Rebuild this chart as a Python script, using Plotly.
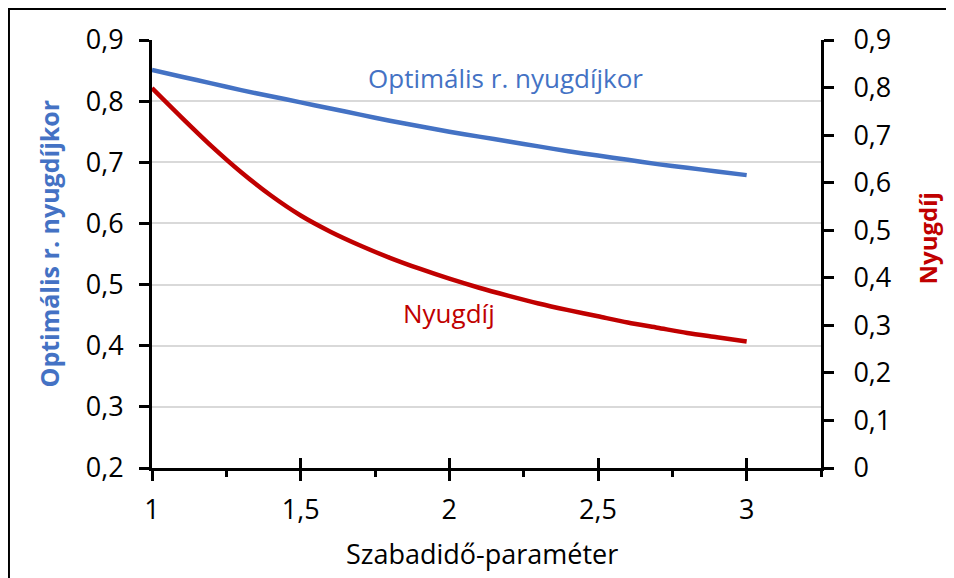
import plotly.graph_objects as go

# data
x = [1.0, 1.1, 1.2, 1.3, 1.4, 1.5, 1.6, 1.7, 1.8, 1.9, 2.0,
     2.1, 2.2, 2.3, 2.4, 2.5, 2.6, 2.7, 2.8, 2.9, 3.0]
optimalis = [0.851, 0.840, 0.829, 0.818, 0.808, 0.798, 0.788, 0.778, 0.768, 0.759, 0.750,
             0.742, 0.734, 0.726, 0.718, 0.711, 0.704, 0.697, 0.691, 0.685, 0.679]
nyugdij = [0.799, 0.737, 0.677, 0.622, 0.573, 0.531, 0.497, 0.468, 0.442, 0.419, 0.398,
           0.379, 0.362, 0.346, 0.332, 0.319, 0.306, 0.295, 0.284, 0.275, 0.266]

BLUE = "#4472C4"
RED = "#C00000"
FONT = "Open Sans"

fig = go.Figure()
fig.add_trace(go.Scatter(x=x, y=optimalis, mode="lines", yaxis="y",
                         line=dict(color=BLUE, width=4.5, shape="spline", smoothing=0.8),
                         showlegend=False))
fig.add_trace(go.Scatter(x=x, y=nyugdij, mode="lines", yaxis="y2",
                         line=dict(color=RED, width=4.5, shape="spline", smoothing=0.8),
                         showlegend=False))
# invisible trace so that xaxis2 (inner halves of crossing ticks) is drawn
fig.add_trace(go.Scatter(x=[x[0]], y=[optimalis[0]], xaxis="x2", mode="markers",
                         marker=dict(opacity=0), showlegend=False,
                         hoverinfo="skip"))

axis_common = dict(showline=True, linecolor="black", linewidth=3,
                   tickcolor="black", tickwidth=3, ticklen=10,
                   tickfont=dict(family=FONT, size=27, color="black"),
                   zeroline=False)

# page body has an 8px margin, so the figure is 8px smaller and shifted
fig.update_layout(
    width=946, height=570,
    margin=dict(l=144, r=133, t=32, b=110),
    paper_bgcolor="white", plot_bgcolor="white",
    separators=", ",
    font=dict(family=FONT, color="black"),
    xaxis=dict(range=[1, 3.25], dtick=0.5, tick0=1, ticks="outside",
               showgrid=False, ticklabelstandoff=6,
               minor=dict(dtick=0.25, tick0=1, ticks="outside", ticklen=6,
                          tickwidth=2.5, tickcolor="black", showgrid=False),
               **axis_common),
    xaxis2=dict(range=[1, 3.25], dtick=0.5, tick0=1, overlaying="x",
                ticks="inside", ticklen=10, tickwidth=3, tickcolor="black",
                showticklabels=False, showgrid=False, showline=False,
                zeroline=False, anchor="y"),
    yaxis=dict(range=[0.2, 0.9], dtick=0.1, ticks="outside",
               showgrid=True, gridcolor="#D9D9D9", gridwidth=1.5,
               ticklabelstandoff=10, **axis_common),
    yaxis2=dict(range=[0, 0.9], dtick=0.1, ticks="outside", side="right",
                overlaying="y", showgrid=False, anchor="x",
                ticklabelstandoff=14, **axis_common),
    annotations=[
        dict(text="Optimális r. nyugdíjkor", x=2.19, y=0.838, xref="x", yref="y",
             xanchor="center", yanchor="middle", showarrow=False,
             font=dict(family=FONT, size=26, color=BLUE)),
        dict(text="Nyugdíj", x=1.998, y=0.326, xref="x", yref="y2",
             xanchor="center", yanchor="middle", showarrow=False,
             font=dict(family=FONT, size=26, color=RED)),
        dict(text="<b>Optimális r. nyugdíjkor</b>", x=-0.154, y=0.5245,
             xref="paper", yref="paper", textangle=-90, showarrow=False,
             xanchor="center", yanchor="middle",
             font=dict(family=FONT, size=25, color=BLUE)),
        dict(text="<b>Nyugdíj</b>", x=1.159, y=0.537,
             xref="paper", yref="paper", textangle=-90, showarrow=False,
             xanchor="center", yanchor="middle",
             font=dict(family=FONT, size=24, color=RED)),
        dict(text="Szabadidő-paraméter", x=0.493, y=-0.199,
             xref="paper", yref="paper", showarrow=False,
             xanchor="center", yanchor="middle",
             font=dict(family=FONT, size=27, color="black")),
    ],
    shapes=[
        dict(type="rect", xref="paper", yref="paper",
             x0=-0.2138, x1=1.25, y0=-0.35, y1=1.0724,
             line=dict(color="black", width=2)),
    ],
)

fig.write_html("out.html")
